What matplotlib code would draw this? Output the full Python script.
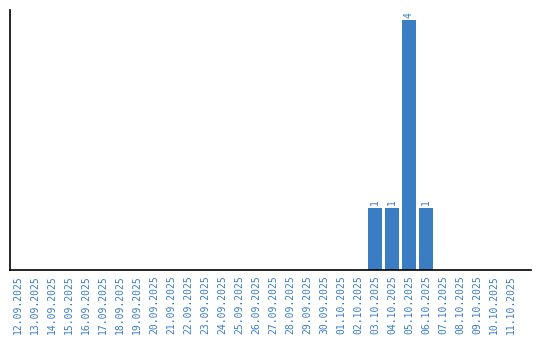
import matplotlib
matplotlib.use("Agg")
import matplotlib.pyplot as plt

dates = ["12.09.2025", "13.09.2025", "14.09.2025", "15.09.2025", "16.09.2025",
         "17.09.2025", "18.09.2025", "19.09.2025", "20.09.2025", "21.09.2025",
         "22.09.2025", "23.09.2025", "24.09.2025", "25.09.2025", "26.09.2025",
         "27.09.2025", "28.09.2025", "29.09.2025", "30.09.2025", "01.10.2025",
         "02.10.2025", "03.10.2025", "04.10.2025", "05.10.2025", "06.10.2025",
         "07.10.2025", "08.10.2025", "09.10.2025", "10.10.2025", "11.10.2025"]
counts = [0, 0, 0, 0, 0, 0, 0, 0, 0, 0,
          0, 0, 0, 0, 0, 0, 0, 0, 0, 0,
          0, 1, 1, 4, 1, 0, 0, 0, 0, 0]

blue = "#3a7dc2"
W, H = 540, 340
fig = plt.figure(figsize=(W / 100, H / 100), dpi=100)
ax = fig.add_axes([10 / W, 1 - 270 / H, 521 / W, 260 / H])

x = list(range(len(dates)))
bars = ax.bar(x, counts, width=0.82, color=blue)
for xi, v in zip(x, counts):
    if v > 0:
        ax.text(xi, v + 0.04, str(v), rotation=90, ha="center", va="bottom",
                color=blue, fontsize=7, family="DejaVu Sans Mono")

ax.set_xlim(-0.47, 30.18)
ax.set_ylim(0, 4.16)
ax.set_xticks(x)
ax.set_xticklabels(dates, rotation=90, color=blue, fontsize=7, family="DejaVu Sans Mono")
ax.tick_params(axis="x", length=0, pad=4)
ax.set_yticks([])
for s in ["top", "right"]:
    ax.spines[s].set_visible(False)
for s in ["left", "bottom"]:
    ax.spines[s].set_linewidth(1.2)
    ax.spines[s].set_color("black")

fig.savefig("out.png", dpi=100)
